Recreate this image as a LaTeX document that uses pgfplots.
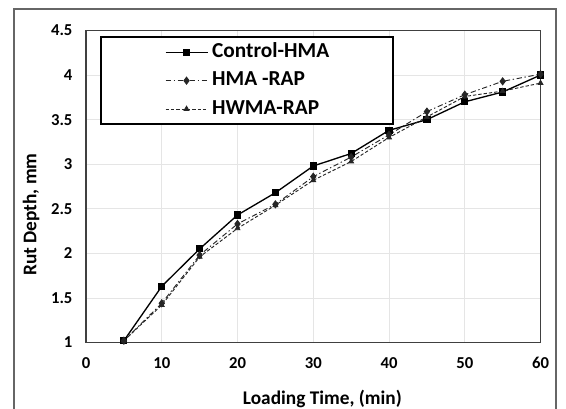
\documentclass[border=0pt]{standalone}
\usepackage{fontspec}
\setmainfont{Carlito}
\usepackage{pgfplots}
\pgfplotsset{compat=1.18}
\begin{document}
\begin{tikzpicture}
\begin{scope}
\clip (0pt,0pt) rectangle (424.5pt,306.75pt);
\fill[white] (0pt,0pt) rectangle (424.5pt,306.75pt);
\draw[black!60, line width=1.1pt] (10.5pt,300pt) rectangle (417pt,-15pt);
\end{scope}
\begin{axis}[
  at={(64.5pt,49.875pt)}, anchor=south west,
  scale only axis, width=340.9pt, height=234pt,
  xmin=0, xmax=60, ymin=1, ymax=4.5,
  xtick={0,10,...,60}, ytick={1,1.5,...,4.5},
  grid=major, major grid style={black!10, line width=0.6pt},
  major tick length=0pt,
  axis line style={black!75, line width=1.4pt},
  /pgf/number format/assume math mode=true,
  ticklabel style={font=\fontsize{12.5}{14}\selectfont\bfseries, inner sep=0pt},
  yticklabel style={anchor=east, xshift=-10pt},
  xticklabel style={anchor=north, yshift=-11pt},
  xlabel={Loading Time, (min)},
  ylabel={Rut Depth, mm},
  label style={font=\fontsize{14.5}{16}\selectfont\bfseries},
  xlabel style={at={(axis description cs:0.52,0)}, anchor=center, yshift=-42pt},
  ylabel style={at={(axis description cs:-0.121,0.41)}, anchor=center},
  legend style={at={(axis description cs:0.0308,0.982)}, anchor=north west,
    draw=black, line width=1.3pt, inner xsep=48pt, inner ysep=4.5pt,
    row sep=7.25pt, column sep=3pt,
    font=\fontsize{16}{18}\selectfont\bfseries,
    nodes={inner sep=0pt, text height=11pt, text depth=3pt}},
  legend cell align=left,
  legend image code/.code={\draw[mark repeat=2,mark phase=2,#1] plot coordinates {(0pt,0pt) (15.75pt,0pt) (31.5pt,0pt)};},
]
\addplot[black, line width=1pt, mark=square*, mark size=2.2pt, mark options={solid}] coordinates {
(5,1.02)(10,1.63)(15,2.05)(20,2.43)(25,2.68)(30,2.98)(35,3.12)(40,3.38)(45,3.50)(50,3.70)(55,3.81)(60,4.00)};
\addlegendentry{Control-HMA}
\addplot[black!85, line width=0.7pt, dash pattern=on 4pt off 2pt on 1pt off 2pt, mark=diamond*, mark size=2.6pt, mark options={solid}] coordinates {
(5,1.02)(10,1.44)(15,1.98)(20,2.33)(25,2.55)(30,2.86)(35,3.08)(40,3.33)(45,3.59)(50,3.78)(55,3.93)(60,4.01)};
\addlegendentry{HMA -RAP}
\addplot[black!85, line width=0.7pt, dash pattern=on 2.5pt off 1.5pt, mark=triangle*, mark size=2pt, mark options={solid}] coordinates {
(5,1.02)(10,1.42)(15,1.96)(20,2.28)(25,2.54)(30,2.82)(35,3.03)(40,3.30)(45,3.53)(50,3.76)(55,3.82)(60,3.91)};
\addlegendentry{HWMA-RAP}
\end{axis}
\pgfresetboundingbox
\useasboundingbox (0pt,0pt) rectangle (424.5pt,306.75pt);
\end{tikzpicture}
\end{document}
